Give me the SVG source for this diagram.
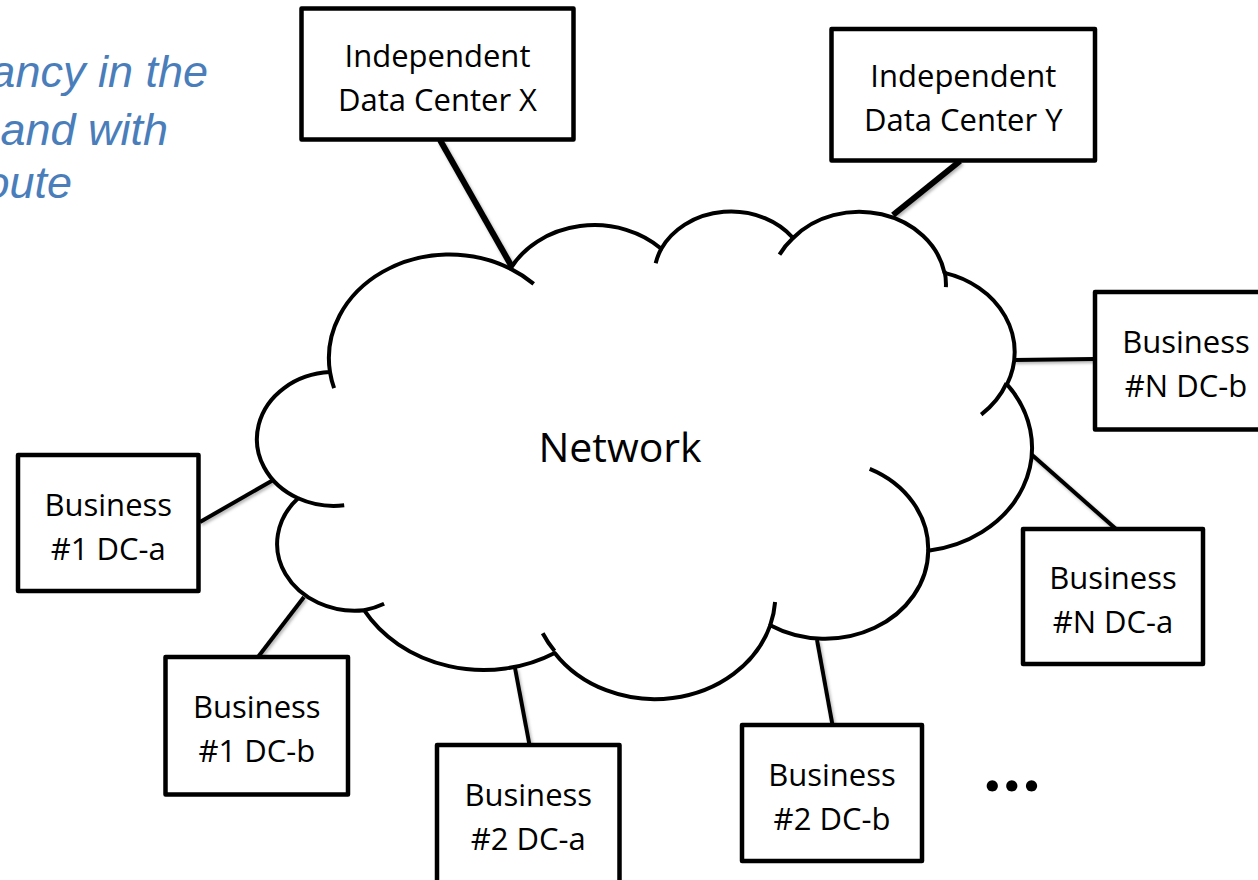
<svg xmlns="http://www.w3.org/2000/svg" width="1258" height="880" viewBox="0 0 1258 880">
  <style>
    .box rect { fill: #ffffff; stroke: #000000; stroke-width: 4.5; stroke-linejoin: round; }
    .lbl { font-family: "Open Sans", "Noto Sans", sans-serif; font-size: 31px; fill: #000000; text-anchor: middle; }
    .conn line { stroke: #000000; stroke-width: 4; }
    .conn line.thick { stroke-width: 6; }
    .cloud-body { fill: #ffffff; stroke: #000000; stroke-width: 4; stroke-linejoin: round; }
    .cloud-hook { fill: none; stroke: #000000; stroke-width: 4; }
    .note { font-family: "Liberation Sans", Arial, sans-serif; font-style: italic; font-size: 45px; fill: #4a7ebb; text-anchor: end; }
    .more { font-family: Lato, "Open Sans", sans-serif; font-weight: bold; font-size: 74px; letter-spacing: 2px; fill: #000000; }
  </style>
  <defs>
    <filter id="soft-shadow" filterUnits="userSpaceOnUse" x="0" y="0" width="1258" height="880">
      <feDropShadow dx="1.5" dy="2" stdDeviation="1.5" flood-color="#000000" flood-opacity="0.3"/>
    </filter>
  </defs>

  <rect width="1258" height="880" fill="#ffffff"/>

  <!-- partial caption text running in from the left edge -->
  <g id="caption">
    <text class="note" x="208" y="87">ancy in the</text>
    <text class="note" x="168" y="145">and with</text>
    <text class="note" x="72" y="198">oute</text>
  </g>

  <!-- links between the network cloud and the data centers -->
  <g id="connectors" class="conn" filter="url(#soft-shadow)">
    <line class="thick" x1="440" y1="140" x2="512" y2="267"/>
    <line class="thick" x1="960" y1="161" x2="893" y2="215"/>
    <line x1="1014" y1="360" x2="1094" y2="359"/>
    <line x1="1031" y1="454" x2="1116" y2="529"/>
    <line x1="817" y1="640" x2="832.5" y2="725"/>
    <line x1="515" y1="668" x2="529.5" y2="745"/>
    <line x1="304" y1="597" x2="258" y2="657"/>
    <line x1="275" y1="479" x2="200" y2="522"/>
  </g>

  <!-- cloud outline built from eleven elliptical lobes -->
  <g id="network">
    <path class="cloud-body" d="M 330.0 372.1
      A 120.56 103.67 0 0 1 510.4 268.7
      A 95.21 81.98 0 0 1 661.3 248.7
      A 77.93 67.07 0 0 1 793.1 238.0
      A 86.71 74.40 0 0 1 944.5 272.9
      A 95.21 82.05 0 0 1 1007.0 384.4
      A 120.95 104.01 0 0 1 928.2 550.7
      A 103.28 88.75 0 0 1 770.2 625.3
      A 120.54 103.95 0 0 1 554.7 653.0
      A 137.83 118.94 0 0 1 364.1 610.2
      A 77.84 66.76 0 0 1 298.1 498.3
      A 77.57 67.07 0 0 1 330.0 372.1 Z"/>
    <path class="cloud-hook" d="M 344.2 505.3 A 77.57 67.07 0 0 1 298.1 498.3
      M 384.1 603.7 A 77.84 66.76 0 0 1 364.1 610.2
      M 554.6 651.0 A 120.54 103.95 0 0 1 542.7 633.3
      M 775.1 602.0 A 120.54 103.95 0 0 1 770.2 625.3
      M 869.7 468.9 A 103.28 88.75 0 0 1 928.2 550.7
      M 1006.6 383.2 A 95.21 82.05 0 0 1 981.2 414.6
      M 944.6 271.2 A 86.71 74.40 0 0 1 945.9 287.2
      M 779.5 254.6 A 86.71 74.40 0 0 1 793.1 238.0
      M 655.7 263.2 A 77.93 67.07 0 0 1 661.3 248.7
      M 510.3 268.6 A 120.56 103.67 0 0 1 533.7 283.9
      M 334.1 388.1 A 120.56 103.67 0 0 1 330.0 372.1"/>
    <text class="lbl" x="620" y="462" style="font-size:41px">Network</text>
  </g>

  <g id="dc-x" class="box">
    <rect x="301.5" y="8.5" width="272" height="131"/>
    <text class="lbl" x="437.5" y="66.5">Independent</text>
    <text class="lbl" x="437.5" y="110.5">Data Center X</text>
  </g>

  <g id="dc-y" class="box">
    <rect x="831.5" y="29" width="263.5" height="131.5"/>
    <text class="lbl" x="963.3" y="87">Independent</text>
    <text class="lbl" x="963.3" y="131">Data Center Y</text>
  </g>

  <g id="biz-n-b" class="box">
    <rect x="1095" y="292" width="182" height="137.5"/>
    <text class="lbl" x="1186" y="353">Business</text>
    <text class="lbl" x="1186" y="397">#N DC-b</text>
  </g>

  <g id="biz-n-a" class="box">
    <rect x="1023" y="529" width="180" height="135"/>
    <text class="lbl" x="1113" y="589">Business</text>
    <text class="lbl" x="1113" y="633">#N DC-a</text>
  </g>

  <g id="biz-2-b" class="box">
    <rect x="742" y="725" width="180" height="136"/>
    <text class="lbl" x="832" y="785.5">Business</text>
    <text class="lbl" x="832" y="829.5">#2 DC-b</text>
  </g>

  <g id="biz-2-a" class="box">
    <rect x="437" y="745" width="182.5" height="140"/>
    <text class="lbl" x="528.3" y="806">Business</text>
    <text class="lbl" x="528.3" y="850">#2 DC-a</text>
  </g>

  <g id="biz-1-b" class="box">
    <rect x="165.5" y="657" width="182.5" height="137.5"/>
    <text class="lbl" x="256.8" y="718">Business</text>
    <text class="lbl" x="256.8" y="762">#1 DC-b</text>
  </g>

  <g id="biz-1-a" class="box">
    <rect x="18" y="455" width="180.5" height="136"/>
    <text class="lbl" x="108.3" y="515.5">Business</text>
    <text class="lbl" x="108.3" y="559.5">#1 DC-a</text>
  </g>

  <text id="more" class="more" x="983.5" y="791">...</text>
</svg>
